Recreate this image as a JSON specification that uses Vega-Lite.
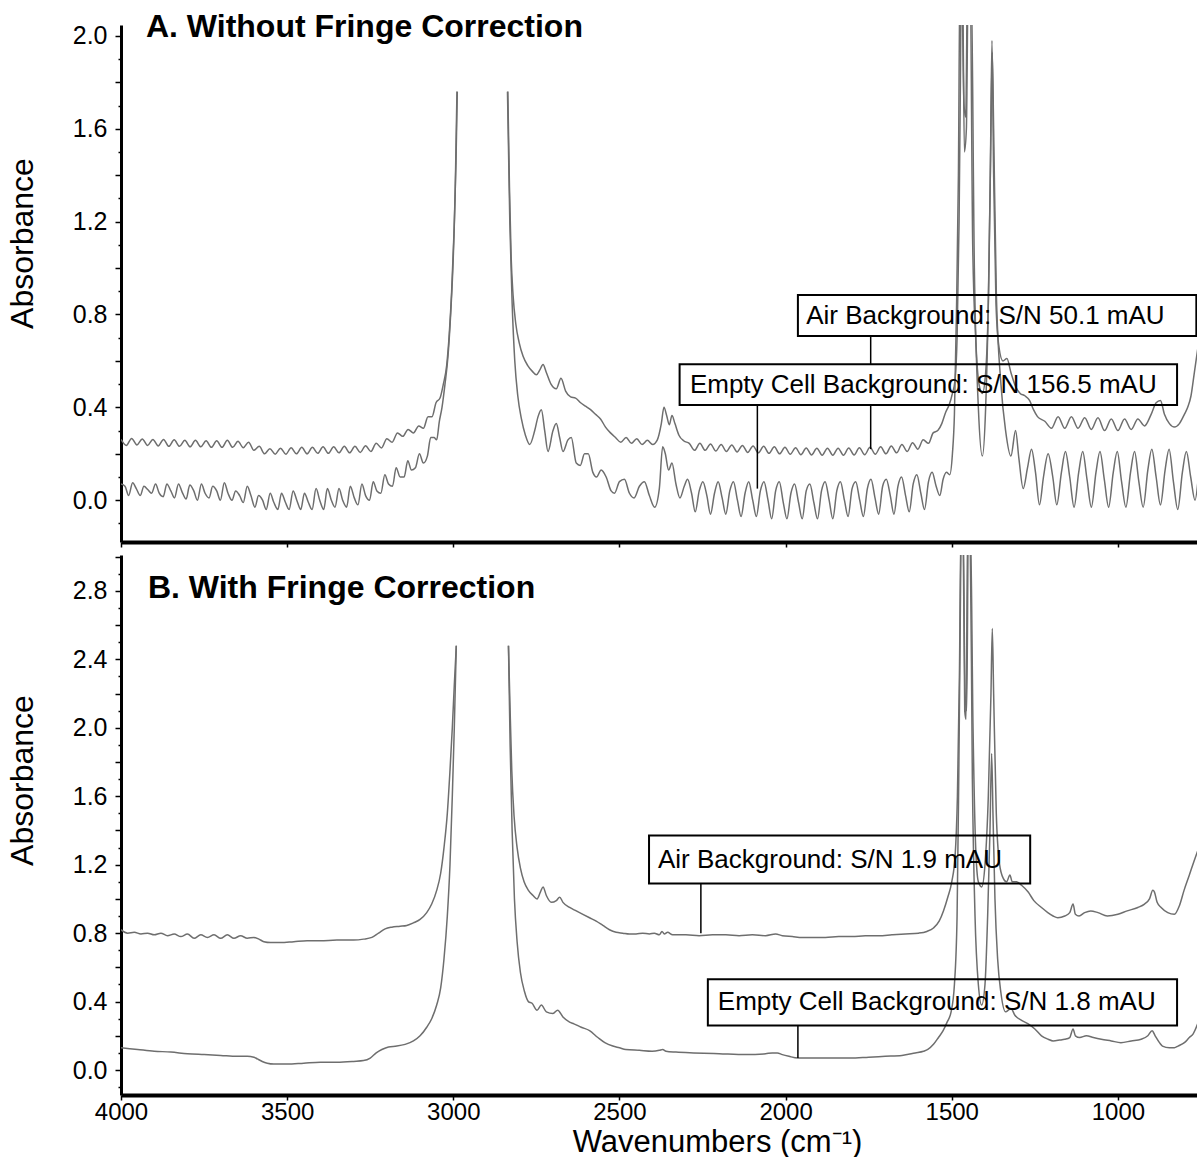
{
"$schema": "https://vega.github.io/schema/vega-lite/v6.json",
"background": "white",
"padding": {"left": 6, "top": 10, "right": 0, "bottom": 0},
"config": {"font": "Liberation Sans", "view": {"stroke": null}, "axis": {"grid": false}},
"datasets": {
"A": [
{"k":"a1","x":4000,"y":0.262},{"k":"a1","x":3984,"y":0.236},{"k":"a1","x":3968,"y":0.266},{"k":"a1","x":3952,"y":0.238},{"k":"a1","x":3936,"y":0.264},{"k":"a1","x":3920,"y":0.236},{"k":"a1","x":3904,"y":0.262},{"k":"a1","x":3888,"y":0.234},{"k":"a1","x":3872,"y":0.262},{"k":"a1","x":3856,"y":0.232},{"k":"a1","x":3840,"y":0.26},{"k":"a1","x":3824,"y":0.232},{"k":"a1","x":3808,"y":0.258},{"k":"a1","x":3792,"y":0.23},{"k":"a1","x":3776,"y":0.258},{"k":"a1","x":3760,"y":0.23},{"k":"a1","x":3744,"y":0.256},{"k":"a1","x":3728,"y":0.228},{"k":"a1","x":3712,"y":0.256},{"k":"a1","x":3696,"y":0.228},{"k":"a1","x":3680,"y":0.258},{"k":"a1","x":3664,"y":0.228},{"k":"a1","x":3648,"y":0.254},{"k":"a1","x":3632,"y":0.226},{"k":"a1","x":3616,"y":0.25},{"k":"a1","x":3600,"y":0.215},{"k":"a1","x":3584,"y":0.232},{"k":"a1","x":3568,"y":0.2},{"k":"a1","x":3552,"y":0.222},{"k":"a1","x":3536,"y":0.198},{"k":"a1","x":3520,"y":0.224},{"k":"a1","x":3504,"y":0.198},{"k":"a1","x":3488,"y":0.226},{"k":"a1","x":3472,"y":0.2},{"k":"a1","x":3456,"y":0.228},{"k":"a1","x":3440,"y":0.2},{"k":"a1","x":3424,"y":0.228},{"k":"a1","x":3408,"y":0.202},{"k":"a1","x":3392,"y":0.23},{"k":"a1","x":3376,"y":0.202},{"k":"a1","x":3360,"y":0.23},{"k":"a1","x":3344,"y":0.204},{"k":"a1","x":3328,"y":0.232},{"k":"a1","x":3312,"y":0.204},{"k":"a1","x":3296,"y":0.232},{"k":"a1","x":3280,"y":0.206},{"k":"a1","x":3264,"y":0.235},{"k":"a1","x":3248,"y":0.21},{"k":"a1","x":3232,"y":0.245},{"k":"a1","x":3216,"y":0.225},{"k":"a1","x":3200,"y":0.265},{"k":"a1","x":3184,"y":0.25},{"k":"a1","x":3168,"y":0.29},{"k":"a1","x":3152,"y":0.275},{"k":"a1","x":3136,"y":0.305},{"k":"a1","x":3120,"y":0.29},{"k":"a1","x":3104,"y":0.32},{"k":"a1","x":3090,"y":0.31},{"k":"a1","x":3076,"y":0.36},{"k":"a1","x":3064,"y":0.36},{"k":"a1","x":3052,"y":0.42},{"k":"a1","x":3040,"y":0.44},{"k":"a1","x":3030,"y":0.5},{"k":"a1","x":3020,"y":0.58},{"k":"a1","x":3012,"y":0.72},{"k":"a1","x":3005,"y":0.9},{"k":"a1","x":2998,"y":1.15},{"k":"a1","x":2992,"y":1.45},{"k":"a1","x":2988,"y":1.76},
{"k":"a2","x":2836,"y":1.76},{"k":"a2","x":2831,"y":1.35},{"k":"a2","x":2826,"y":1.05},{"k":"a2","x":2820,"y":0.88},{"k":"a2","x":2812,"y":0.76},{"k":"a2","x":2802,"y":0.68},{"k":"a2","x":2790,"y":0.62},{"k":"a2","x":2776,"y":0.58},{"k":"a2","x":2762,"y":0.555},{"k":"a2","x":2750,"y":0.54},{"k":"a2","x":2740,"y":0.56},{"k":"a2","x":2730,"y":0.585},{"k":"a2","x":2720,"y":0.55},{"k":"a2","x":2706,"y":0.5},{"k":"a2","x":2690,"y":0.48},{"k":"a2","x":2676,"y":0.525},{"k":"a2","x":2662,"y":0.47},{"k":"a2","x":2647,"y":0.445},{"k":"a2","x":2632,"y":0.44},{"k":"a2","x":2617,"y":0.42},{"k":"a2","x":2602,"y":0.405},{"k":"a2","x":2587,"y":0.39},{"k":"a2","x":2572,"y":0.37},{"k":"a2","x":2557,"y":0.35},{"k":"a2","x":2542,"y":0.315},{"k":"a2","x":2527,"y":0.29},{"k":"a2","x":2512,"y":0.27},{"k":"a2","x":2496,"y":0.25},{"k":"a2","x":2480,"y":0.27},{"k":"a2","x":2464,"y":0.245},{"k":"a2","x":2448,"y":0.265},{"k":"a2","x":2432,"y":0.24},{"k":"a2","x":2416,"y":0.258},{"k":"a2","x":2400,"y":0.24},{"k":"a2","x":2386,"y":0.26},{"k":"a2","x":2374,"y":0.33},{"k":"a2","x":2366,"y":0.4},{"k":"a2","x":2358,"y":0.365},{"k":"a2","x":2350,"y":0.325},{"k":"a2","x":2342,"y":0.365},{"k":"a2","x":2333,"y":0.33},{"k":"a2","x":2321,"y":0.28},{"k":"a2","x":2306,"y":0.255},
{"k":"a2","x":2290,"y":0.245},{"k":"a2","x":2274,"y":0.215},{"k":"a2","x":2258,"y":0.245},{"k":"a2","x":2242,"y":0.215},{"k":"a2","x":2226,"y":0.242},{"k":"a2","x":2210,"y":0.212},{"k":"a2","x":2194,"y":0.24},{"k":"a2","x":2178,"y":0.21},{"k":"a2","x":2162,"y":0.238},{"k":"a2","x":2146,"y":0.208},{"k":"a2","x":2130,"y":0.236},{"k":"a2","x":2114,"y":0.206},{"k":"a2","x":2098,"y":0.234},{"k":"a2","x":2082,"y":0.204},{"k":"a2","x":2066,"y":0.232},{"k":"a2","x":2050,"y":0.202},{"k":"a2","x":2034,"y":0.23},{"k":"a2","x":2018,"y":0.2},{"k":"a2","x":2002,"y":0.228},{"k":"a2","x":1986,"y":0.198},{"k":"a2","x":1970,"y":0.226},{"k":"a2","x":1954,"y":0.196},{"k":"a2","x":1938,"y":0.225},{"k":"a2","x":1922,"y":0.195},{"k":"a2","x":1906,"y":0.224},{"k":"a2","x":1890,"y":0.194},{"k":"a2","x":1874,"y":0.224},{"k":"a2","x":1858,"y":0.194},{"k":"a2","x":1842,"y":0.224},{"k":"a2","x":1826,"y":0.194},{"k":"a2","x":1810,"y":0.225},{"k":"a2","x":1794,"y":0.195},{"k":"a2","x":1778,"y":0.226},{"k":"a2","x":1762,"y":0.196},{"k":"a2","x":1746,"y":0.228},{"k":"a2","x":1730,"y":0.198},{"k":"a2","x":1714,"y":0.23},{"k":"a2","x":1698,"y":0.2},{"k":"a2","x":1682,"y":0.234},{"k":"a2","x":1666,"y":0.204},{"k":"a2","x":1650,"y":0.24},{"k":"a2","x":1634,"y":0.21},{"k":"a2","x":1618,"y":0.248},{"k":"a2","x":1602,"y":0.22},{"k":"a2","x":1586,"y":0.26},{"k":"a2","x":1570,"y":0.245},{"k":"a2","x":1556,"y":0.29},{"k":"a2","x":1542,"y":0.3},{"k":"a2","x":1530,"y":0.33},{"k":"a2","x":1518,"y":0.38},{"k":"a2","x":1508,"y":0.41},{"k":"a2","x":1498,"y":0.46},{"k":"a2","x":1490,"y":0.52},{"k":"a2","x":1484,"y":0.7},{"k":"a2","x":1478,"y":1.2},{"k":"a2","x":1474,"y":1.8},
{"k":"a2","x":1471,"y":2.3},{"k":"a2","x":1463,"y":1.7},{"k":"a2","x":1458,"y":1.65},{"k":"a2","x":1452,"y":2.3},{"k":"a2","x":1445,"y":2.3},{"k":"a2","x":1437,"y":1.1},{"k":"a2","x":1428,"y":0.7},{"k":"a2","x":1418,"y":0.5},{"k":"a2","x":1408,"y":0.46},{"k":"a2","x":1398,"y":0.55},{"k":"a2","x":1390,"y":0.85},{"k":"a2","x":1384,"y":1.4},{"k":"a2","x":1379,"y":1.98},{"k":"a2","x":1374,"y":1.4},{"k":"a2","x":1367,"y":0.85},{"k":"a2","x":1358,"y":0.66},{"k":"a2","x":1346,"y":0.6},{"k":"a2","x":1334,"y":0.61},{"k":"a2","x":1322,"y":0.55},{"k":"a2","x":1308,"y":0.49},{"k":"a2","x":1294,"y":0.46},{"k":"a2","x":1280,"y":0.45},{"k":"a2","x":1266,"y":0.43},{"k":"a2","x":1254,"y":0.39},{"k":"a2","x":1242,"y":0.36},
{"k":"a2","x":1220,"y":0.34},{"k":"a2","x":1200,"y":0.31},{"k":"a2","x":1180,"y":0.36},{"k":"a2","x":1160,"y":0.31},{"k":"a2","x":1140,"y":0.36},{"k":"a2","x":1120,"y":0.31},{"k":"a2","x":1100,"y":0.355},{"k":"a2","x":1080,"y":0.305},{"k":"a2","x":1060,"y":0.355},{"k":"a2","x":1040,"y":0.3},{"k":"a2","x":1020,"y":0.35},{"k":"a2","x":1000,"y":0.3},{"k":"a2","x":980,"y":0.35},{"k":"a2","x":960,"y":0.305},{"k":"a2","x":940,"y":0.35},{"k":"a2","x":920,"y":0.32},{"k":"a2","x":900,"y":0.37},{"k":"a2","x":885,"y":0.42},{"k":"a2","x":872,"y":0.43},{"k":"a2","x":860,"y":0.37},{"k":"a2","x":845,"y":0.33},{"k":"a2","x":830,"y":0.315},{"k":"a2","x":815,"y":0.33},{"k":"a2","x":800,"y":0.37},{"k":"a2","x":790,"y":0.4},{"k":"a2","x":780,"y":0.45},{"k":"a2","x":770,"y":0.55},{"k":"a2","x":760,"y":0.65},
{"k":"e1","x":4000,"y":0.07},{"k":"e1","x":3988,"y":0.06},{"k":"e1","x":3977,"y":0.02},{"k":"e1","x":3965,"y":0.075},{"k":"e1","x":3954,"y":0.05},{"k":"e1","x":3942,"y":0.02},{"k":"e1","x":3931,"y":0.06},{"k":"e1","x":3919,"y":0.045},{"k":"e1","x":3908,"y":0.03},{"k":"e1","x":3896,"y":0.07},{"k":"e1","x":3885,"y":0.03},{"k":"e1","x":3873,"y":0.015},{"k":"e1","x":3862,"y":0.07},{"k":"e1","x":3850,"y":0.04},{"k":"e1","x":3839,"y":0.01},{"k":"e1","x":3827,"y":0.07},{"k":"e1","x":3816,"y":0.035},{"k":"e1","x":3804,"y":0.005},{"k":"e1","x":3793,"y":0.065},{"k":"e1","x":3781,"y":0.04},{"k":"e1","x":3770,"y":0.0},{"k":"e1","x":3758,"y":0.07},{"k":"e1","x":3747,"y":0.03},{"k":"e1","x":3735,"y":0.01},{"k":"e1","x":3724,"y":0.06},{"k":"e1","x":3712,"y":0.04},{"k":"e1","x":3701,"y":0.0},{"k":"e1","x":3689,"y":0.075},{"k":"e1","x":3678,"y":0.03},{"k":"e1","x":3666,"y":0.0},{"k":"e1","x":3655,"y":0.04},{"k":"e1","x":3643,"y":0.02},{"k":"e1","x":3632,"y":-0.01},{"k":"e1","x":3620,"y":0.06},{"k":"e1","x":3609,"y":0.02},{"k":"e1","x":3597,"y":-0.03},{"k":"e1","x":3586,"y":0.02},{"k":"e1","x":3574,"y":0.0},{"k":"e1","x":3563,"y":-0.04},{"k":"e1","x":3551,"y":0.03},{"k":"e1","x":3540,"y":-0.01},{"k":"e1","x":3528,"y":-0.04},{"k":"e1","x":3517,"y":0.03},{"k":"e1","x":3505,"y":-0.01},{"k":"e1","x":3494,"y":-0.04},{"k":"e1","x":3482,"y":0.04},{"k":"e1","x":3471,"y":0.0},{"k":"e1","x":3459,"y":-0.04},{"k":"e1","x":3448,"y":0.03},{"k":"e1","x":3436,"y":-0.01},{"k":"e1","x":3425,"y":-0.04},{"k":"e1","x":3413,"y":0.05},{"k":"e1","x":3402,"y":0.0},{"k":"e1","x":3390,"y":-0.04},{"k":"e1","x":3379,"y":0.05},{"k":"e1","x":3367,"y":0.0},{"k":"e1","x":3356,"y":-0.03},{"k":"e1","x":3344,"y":0.05},{"k":"e1","x":3333,"y":0.0},{"k":"e1","x":3321,"y":-0.03},{"k":"e1","x":3310,"y":0.06},{"k":"e1","x":3298,"y":0.01},{"k":"e1","x":3287,"y":-0.02},{"k":"e1","x":3275,"y":0.07},{"k":"e1","x":3264,"y":0.02},{"k":"e1","x":3252,"y":0.0},{"k":"e1","x":3241,"y":0.08},{"k":"e1","x":3230,"y":0.04},{"k":"e1","x":3218,"y":0.03},{"k":"e1","x":3206,"y":0.11},{"k":"e1","x":3195,"y":0.07},{"k":"e1","x":3183,"y":0.06},{"k":"e1","x":3172,"y":0.14},{"k":"e1","x":3160,"y":0.1},{"k":"e1","x":3148,"y":0.1},{"k":"e1","x":3137,"y":0.17},{"k":"e1","x":3126,"y":0.13},{"k":"e1","x":3114,"y":0.14},{"k":"e1","x":3102,"y":0.2},{"k":"e1","x":3090,"y":0.16},{"k":"e1","x":3078,"y":0.19},{"k":"e1","x":3068,"y":0.27},{"k":"e1","x":3058,"y":0.27},{"k":"e1","x":3050,"y":0.26},{"k":"e1","x":3042,"y":0.34},{"k":"e1","x":3034,"y":0.4},{"k":"e1","x":3025,"y":0.5},{"k":"e1","x":3016,"y":0.62},{"k":"e1","x":3008,"y":0.8},{"k":"e1","x":3000,"y":1.05},{"k":"e1","x":2994,"y":1.35},{"k":"e1","x":2989,"y":1.76},
{"k":"e2","x":2837,"y":1.76},{"k":"e2","x":2830,"y":1.2},{"k":"e2","x":2823,"y":0.85},{"k":"e2","x":2815,"y":0.6},{"k":"e2","x":2806,"y":0.45},{"k":"e2","x":2795,"y":0.35},{"k":"e2","x":2783,"y":0.28},{"k":"e2","x":2770,"y":0.24},{"k":"e2","x":2755,"y":0.3},{"k":"e2","x":2745,"y":0.36},{"k":"e2","x":2735,"y":0.39},{"k":"e2","x":2725,"y":0.3},{"k":"e2","x":2715,"y":0.21},{"k":"e2","x":2700,"y":0.3},{"k":"e2","x":2690,"y":0.33},{"k":"e2","x":2680,"y":0.27},{"k":"e2","x":2670,"y":0.21},{"k":"e2","x":2655,"y":0.26},{"k":"e2","x":2645,"y":0.27},{"k":"e2","x":2630,"y":0.16},{"k":"e2","x":2618,"y":0.15},{"k":"e2","x":2605,"y":0.2},{"k":"e2","x":2594,"y":0.2},{"k":"e2","x":2580,"y":0.12},{"k":"e2","x":2569,"y":0.1},{"k":"e2","x":2555,"y":0.13},{"k":"e2","x":2540,"y":0.1},{"k":"e2","x":2525,"y":0.04},{"k":"e2","x":2515,"y":0.03},{"k":"e2","x":2500,"y":0.08},{"k":"e2","x":2485,"y":0.09},{"k":"e2","x":2470,"y":0.03},{"k":"e2","x":2456,"y":0.01},{"k":"e2","x":2440,"y":0.06},{"k":"e2","x":2425,"y":0.08},{"k":"e2","x":2410,"y":0.02},{"k":"e2","x":2394,"y":-0.03},{"k":"e2","x":2380,"y":0.05},{"k":"e2","x":2370,"y":0.23},{"k":"e2","x":2362,"y":0.2},{"k":"e2","x":2352,"y":0.13},{"k":"e2","x":2342,"y":0.16},{"k":"e2","x":2330,"y":0.07},{"k":"e2","x":2318,"y":0.01},
{"k":"e2","x":2305,"y":0.06},{"k":"e2","x":2295,"y":0.09},{"k":"e2","x":2283,"y":0.03},{"k":"e2","x":2272,"y":-0.05},{"k":"e2","x":2260,"y":0.04},{"k":"e2","x":2249,"y":0.08},{"k":"e2","x":2237,"y":0.02},{"k":"e2","x":2226,"y":-0.06},{"k":"e2","x":2214,"y":0.03},{"k":"e2","x":2203,"y":0.08},{"k":"e2","x":2191,"y":0.01},{"k":"e2","x":2180,"y":-0.06},{"k":"e2","x":2168,"y":0.04},{"k":"e2","x":2157,"y":0.08},{"k":"e2","x":2145,"y":0.0},{"k":"e2","x":2134,"y":-0.07},{"k":"e2","x":2122,"y":0.03},{"k":"e2","x":2111,"y":0.08},{"k":"e2","x":2099,"y":0.0},{"k":"e2","x":2088,"y":-0.07},{"k":"e2","x":2076,"y":0.04},{"k":"e2","x":2065,"y":0.08},{"k":"e2","x":2053,"y":0.0},{"k":"e2","x":2042,"y":-0.08},{"k":"e2","x":2030,"y":0.04},{"k":"e2","x":2019,"y":0.08},{"k":"e2","x":2007,"y":-0.01},{"k":"e2","x":1996,"y":-0.08},{"k":"e2","x":1984,"y":0.03},{"k":"e2","x":1973,"y":0.07},{"k":"e2","x":1961,"y":-0.01},{"k":"e2","x":1950,"y":-0.08},{"k":"e2","x":1938,"y":0.04},{"k":"e2","x":1927,"y":0.07},{"k":"e2","x":1915,"y":-0.01},{"k":"e2","x":1904,"y":-0.08},{"k":"e2","x":1892,"y":0.04},{"k":"e2","x":1881,"y":0.08},{"k":"e2","x":1869,"y":0.0},{"k":"e2","x":1858,"y":-0.08},{"k":"e2","x":1846,"y":0.04},{"k":"e2","x":1835,"y":0.08},{"k":"e2","x":1823,"y":0.0},{"k":"e2","x":1812,"y":-0.07},{"k":"e2","x":1800,"y":0.05},{"k":"e2","x":1789,"y":0.08},{"k":"e2","x":1777,"y":0.0},{"k":"e2","x":1766,"y":-0.07},{"k":"e2","x":1754,"y":0.05},{"k":"e2","x":1743,"y":0.09},{"k":"e2","x":1731,"y":0.01},{"k":"e2","x":1720,"y":-0.06},{"k":"e2","x":1708,"y":0.06},{"k":"e2","x":1697,"y":0.09},{"k":"e2","x":1685,"y":0.02},{"k":"e2","x":1674,"y":-0.06},{"k":"e2","x":1662,"y":0.06},{"k":"e2","x":1651,"y":0.1},{"k":"e2","x":1639,"y":0.02},{"k":"e2","x":1628,"y":-0.05},{"k":"e2","x":1616,"y":0.07},{"k":"e2","x":1605,"y":0.11},{"k":"e2","x":1593,"y":0.03},{"k":"e2","x":1582,"y":-0.04},{"k":"e2","x":1570,"y":0.08},{"k":"e2","x":1559,"y":0.12},{"k":"e2","x":1547,"y":0.06},{"k":"e2","x":1536,"y":0.02},{"k":"e2","x":1526,"y":0.09},{"k":"e2","x":1516,"y":0.12},{"k":"e2","x":1506,"y":0.11},{"k":"e2","x":1498,"y":0.2},{"k":"e2","x":1492,"y":0.37},{"k":"e2","x":1486,"y":0.8},{"k":"e2","x":1480,"y":1.4},{"k":"e2","x":1475,"y":2.3},
{"k":"e2","x":1468,"y":2.3},{"k":"e2","x":1462,"y":1.5},{"k":"e2","x":1456,"y":1.6},{"k":"e2","x":1450,"y":2.3},{"k":"e2","x":1442,"y":2.3},{"k":"e2","x":1432,"y":1.0},{"k":"e2","x":1420,"y":0.4},{"k":"e2","x":1408,"y":0.19},{"k":"e2","x":1398,"y":0.4},{"k":"e2","x":1388,"y":1.0},{"k":"e2","x":1382,"y":1.6},{"k":"e2","x":1378,"y":1.93},{"k":"e2","x":1374,"y":1.6},{"k":"e2","x":1366,"y":0.9},{"k":"e2","x":1352,"y":0.5},{"k":"e2","x":1338,"y":0.3},{"k":"e2","x":1322,"y":0.19},{"k":"e2","x":1308,"y":0.3},{"k":"e2","x":1298,"y":0.18},{"k":"e2","x":1285,"y":0.05},{"k":"e2","x":1272,"y":0.14},{"k":"e2","x":1260,"y":0.22},{"k":"e2","x":1248,"y":0.12},{"k":"e2","x":1236,"y":-0.02},{"k":"e2","x":1224,"y":0.1},{"k":"e2","x":1210,"y":0.2},{"k":"e2","x":1196,"y":0.1},{"k":"e2","x":1184,"y":-0.02},{"k":"e2","x":1170,"y":0.12},{"k":"e2","x":1158,"y":0.21},{"k":"e2","x":1145,"y":0.1},{"k":"e2","x":1132,"y":-0.03},{"k":"e2","x":1118,"y":0.12},{"k":"e2","x":1106,"y":0.21},{"k":"e2","x":1093,"y":0.09},{"k":"e2","x":1080,"y":-0.03},{"k":"e2","x":1066,"y":0.12},{"k":"e2","x":1054,"y":0.21},{"k":"e2","x":1041,"y":0.09},{"k":"e2","x":1028,"y":-0.03},{"k":"e2","x":1014,"y":0.12},{"k":"e2","x":1002,"y":0.21},{"k":"e2","x":989,"y":0.08},{"k":"e2","x":976,"y":-0.03},{"k":"e2","x":962,"y":0.12},{"k":"e2","x":950,"y":0.21},{"k":"e2","x":937,"y":0.08},{"k":"e2","x":924,"y":-0.03},{"k":"e2","x":910,"y":0.13},{"k":"e2","x":898,"y":0.22},{"k":"e2","x":885,"y":0.1},{"k":"e2","x":872,"y":-0.02},{"k":"e2","x":858,"y":0.13},{"k":"e2","x":846,"y":0.22},{"k":"e2","x":833,"y":0.08},{"k":"e2","x":820,"y":-0.04},{"k":"e2","x":806,"y":0.12},{"k":"e2","x":794,"y":0.21},{"k":"e2","x":781,"y":0.1},{"k":"e2","x":768,"y":0.0},{"k":"e2","x":758,"y":0.1}
],
"B": [
{"k":"a1","x":4000,"y":0.82},{"k":"a1","x":3980,"y":0.8},{"k":"a1","x":3960,"y":0.805},{"k":"a1","x":3940,"y":0.795},{"k":"a1","x":3920,"y":0.8},{"k":"a1","x":3900,"y":0.79},{"k":"a1","x":3880,"y":0.8},{"k":"a1","x":3860,"y":0.785},{"k":"a1","x":3840,"y":0.795},{"k":"a1","x":3820,"y":0.78},{"k":"a1","x":3800,"y":0.795},{"k":"a1","x":3780,"y":0.77},{"k":"a1","x":3760,"y":0.79},{"k":"a1","x":3740,"y":0.775},{"k":"a1","x":3720,"y":0.79},{"k":"a1","x":3700,"y":0.77},{"k":"a1","x":3680,"y":0.79},{"k":"a1","x":3660,"y":0.77},{"k":"a1","x":3640,"y":0.785},{"k":"a1","x":3620,"y":0.77},{"k":"a1","x":3600,"y":0.775},{"k":"a1","x":3585,"y":0.765},{"k":"a1","x":3570,"y":0.75},{"k":"a1","x":3550,"y":0.745},{"k":"a1","x":3520,"y":0.745},{"k":"a1","x":3480,"y":0.75},{"k":"a1","x":3440,"y":0.755},{"k":"a1","x":3400,"y":0.755},{"k":"a1","x":3350,"y":0.76},{"k":"a1","x":3300,"y":0.76},{"k":"a1","x":3270,"y":0.765},{"k":"a1","x":3245,"y":0.775},{"k":"a1","x":3225,"y":0.8},{"k":"a1","x":3205,"y":0.825},{"k":"a1","x":3185,"y":0.835},{"k":"a1","x":3160,"y":0.84},{"k":"a1","x":3140,"y":0.845},{"k":"a1","x":3120,"y":0.86},{"k":"a1","x":3100,"y":0.88},{"k":"a1","x":3080,"y":0.92},{"k":"a1","x":3065,"y":0.97},{"k":"a1","x":3050,"y":1.05},{"k":"a1","x":3038,"y":1.15},{"k":"a1","x":3028,"y":1.3},{"k":"a1","x":3018,"y":1.5},{"k":"a1","x":3010,"y":1.75},{"k":"a1","x":3003,"y":2.0},{"k":"a1","x":2997,"y":2.25},{"k":"a1","x":2991,"y":2.48},
{"k":"a2","x":2834,"y":2.48},{"k":"a2","x":2829,"y":2.1},{"k":"a2","x":2824,"y":1.75},{"k":"a2","x":2817,"y":1.48},{"k":"a2","x":2808,"y":1.3},{"k":"a2","x":2798,"y":1.18},{"k":"a2","x":2787,"y":1.1},{"k":"a2","x":2774,"y":1.05},{"k":"a2","x":2760,"y":1.02},{"k":"a2","x":2748,"y":1.0},{"k":"a2","x":2738,"y":1.04},{"k":"a2","x":2730,"y":1.07},{"k":"a2","x":2720,"y":1.02},{"k":"a2","x":2705,"y":0.98},{"k":"a2","x":2690,"y":0.99},{"k":"a2","x":2680,"y":1.01},{"k":"a2","x":2670,"y":0.98},{"k":"a2","x":2650,"y":0.95},{"k":"a2","x":2630,"y":0.93},{"k":"a2","x":2610,"y":0.91},{"k":"a2","x":2590,"y":0.89},{"k":"a2","x":2570,"y":0.87},{"k":"a2","x":2550,"y":0.845},{"k":"a2","x":2530,"y":0.82},{"k":"a2","x":2510,"y":0.805},{"k":"a2","x":2490,"y":0.8},{"k":"a2","x":2470,"y":0.795},{"k":"a2","x":2450,"y":0.795},{"k":"a2","x":2430,"y":0.8},{"k":"a2","x":2410,"y":0.795},{"k":"a2","x":2395,"y":0.8},{"k":"a2","x":2380,"y":0.79},{"k":"a2","x":2372,"y":0.81},{"k":"a2","x":2365,"y":0.795},{"k":"a2","x":2355,"y":0.805},{"k":"a2","x":2340,"y":0.79},{"k":"a2","x":2300,"y":0.79},{"k":"a2","x":2260,"y":0.785},{"k":"a2","x":2220,"y":0.79},{"k":"a2","x":2180,"y":0.79},{"k":"a2","x":2140,"y":0.785},{"k":"a2","x":2100,"y":0.79},{"k":"a2","x":2060,"y":0.785},{"k":"a2","x":2030,"y":0.795},{"k":"a2","x":2010,"y":0.785},{"k":"a2","x":1980,"y":0.78},{"k":"a2","x":1950,"y":0.775},{"k":"a2","x":1920,"y":0.775},{"k":"a2","x":1880,"y":0.775},{"k":"a2","x":1840,"y":0.78},{"k":"a2","x":1800,"y":0.78},{"k":"a2","x":1760,"y":0.785},{"k":"a2","x":1720,"y":0.785},{"k":"a2","x":1680,"y":0.79},{"k":"a2","x":1640,"y":0.795},{"k":"a2","x":1600,"y":0.8},{"k":"a2","x":1575,"y":0.81},{"k":"a2","x":1555,"y":0.83},{"k":"a2","x":1538,"y":0.87},{"k":"a2","x":1525,"y":0.93},{"k":"a2","x":1512,"y":1.01},{"k":"a2","x":1500,"y":1.1},{"k":"a2","x":1490,"y":1.25},{"k":"a2","x":1483,"y":1.6},{"k":"a2","x":1477,"y":2.3},{"k":"a2","x":1472,"y":3.2},{"k":"a2","x":1466,"y":3.2},{"k":"a2","x":1460,"y":2.2},{"k":"a2","x":1455,"y":2.1},{"k":"a2","x":1450,"y":3.2},{"k":"a2","x":1444,"y":3.2},{"k":"a2","x":1436,"y":2.0},{"k":"a2","x":1428,"y":1.3},{"k":"a2","x":1420,"y":1.1},{"k":"a2","x":1410,"y":1.07},{"k":"a2","x":1400,"y":1.2},{"k":"a2","x":1390,"y":1.6},{"k":"a2","x":1382,"y":2.2},{"k":"a2","x":1378,"y":2.58},{"k":"a2","x":1374,"y":2.2},{"k":"a2","x":1366,"y":1.5},{"k":"a2","x":1356,"y":1.2},{"k":"a2","x":1345,"y":1.12},{"k":"a2","x":1335,"y":1.1},{"k":"a2","x":1325,"y":1.14},{"k":"a2","x":1318,"y":1.1},{"k":"a2","x":1305,"y":1.1},{"k":"a2","x":1290,"y":1.08},{"k":"a2","x":1270,"y":1.04},{"k":"a2","x":1253,"y":0.99},{"k":"a2","x":1230,"y":0.95},{"k":"a2","x":1211,"y":0.92},{"k":"a2","x":1195,"y":0.9},{"k":"a2","x":1181,"y":0.89},{"k":"a2","x":1160,"y":0.9},{"k":"a2","x":1145,"y":0.92},{"k":"a2","x":1135,"y":0.97},{"k":"a2","x":1128,"y":0.91},{"k":"a2","x":1117,"y":0.9},{"k":"a2","x":1100,"y":0.92},{"k":"a2","x":1082,"y":0.93},{"k":"a2","x":1060,"y":0.92},{"k":"a2","x":1032,"y":0.9},{"k":"a2","x":1000,"y":0.91},{"k":"a2","x":972,"y":0.93},{"k":"a2","x":940,"y":0.95},{"k":"a2","x":920,"y":0.97},{"k":"a2","x":905,"y":1.0},{"k":"a2","x":895,"y":1.05},{"k":"a2","x":890,"y":1.04},{"k":"a2","x":882,"y":0.98},{"k":"a2","x":870,"y":0.95},{"k":"a2","x":850,"y":0.92},{"k":"a2","x":830,"y":0.91},{"k":"a2","x":815,"y":0.96},{"k":"a2","x":801,"y":1.05},{"k":"a2","x":785,"y":1.14},{"k":"a2","x":771,"y":1.22},{"k":"a2","x":760,"y":1.28},
{"k":"e1","x":4000,"y":0.13},{"k":"e1","x":3950,"y":0.12},{"k":"e1","x":3900,"y":0.11},{"k":"e1","x":3850,"y":0.105},{"k":"e1","x":3800,"y":0.095},{"k":"e1","x":3750,"y":0.09},{"k":"e1","x":3700,"y":0.085},{"k":"e1","x":3650,"y":0.08},{"k":"e1","x":3620,"y":0.08},{"k":"e1","x":3600,"y":0.075},{"k":"e1","x":3590,"y":0.065},{"k":"e1","x":3575,"y":0.05},{"k":"e1","x":3560,"y":0.04},{"k":"e1","x":3540,"y":0.035},{"k":"e1","x":3500,"y":0.035},{"k":"e1","x":3450,"y":0.04},{"k":"e1","x":3400,"y":0.045},{"k":"e1","x":3350,"y":0.045},{"k":"e1","x":3300,"y":0.05},{"k":"e1","x":3270,"y":0.055},{"k":"e1","x":3250,"y":0.07},{"k":"e1","x":3232,"y":0.1},{"k":"e1","x":3215,"y":0.12},{"k":"e1","x":3195,"y":0.135},{"k":"e1","x":3170,"y":0.14},{"k":"e1","x":3145,"y":0.15},{"k":"e1","x":3120,"y":0.17},{"k":"e1","x":3100,"y":0.2},{"k":"e1","x":3080,"y":0.25},{"k":"e1","x":3065,"y":0.3},{"k":"e1","x":3050,"y":0.38},{"k":"e1","x":3038,"y":0.48},{"k":"e1","x":3028,"y":0.65},{"k":"e1","x":3018,"y":0.9},{"k":"e1","x":3010,"y":1.2},{"k":"e1","x":3003,"y":1.6},{"k":"e1","x":2997,"y":2.0},{"k":"e1","x":2991,"y":2.48},
{"k":"e2","x":2834,"y":2.48},{"k":"e2","x":2829,"y":1.9},{"k":"e2","x":2823,"y":1.4},{"k":"e2","x":2816,"y":1.0},{"k":"e2","x":2808,"y":0.75},{"k":"e2","x":2798,"y":0.57},{"k":"e2","x":2786,"y":0.46},{"k":"e2","x":2774,"y":0.4},{"k":"e2","x":2763,"y":0.39},{"k":"e2","x":2748,"y":0.35},{"k":"e2","x":2735,"y":0.38},{"k":"e2","x":2720,"y":0.34},{"k":"e2","x":2700,"y":0.33},{"k":"e2","x":2686,"y":0.35},{"k":"e2","x":2670,"y":0.31},{"k":"e2","x":2650,"y":0.28},{"k":"e2","x":2637,"y":0.27},{"k":"e2","x":2615,"y":0.25},{"k":"e2","x":2590,"y":0.23},{"k":"e2","x":2565,"y":0.19},{"k":"e2","x":2544,"y":0.16},{"k":"e2","x":2520,"y":0.14},{"k":"e2","x":2500,"y":0.13},{"k":"e2","x":2481,"y":0.12},{"k":"e2","x":2440,"y":0.115},{"k":"e2","x":2402,"y":0.11},{"k":"e2","x":2380,"y":0.115},{"k":"e2","x":2370,"y":0.12},{"k":"e2","x":2360,"y":0.11},{"k":"e2","x":2330,"y":0.105},{"k":"e2","x":2277,"y":0.1},{"k":"e2","x":2200,"y":0.095},{"k":"e2","x":2119,"y":0.09},{"k":"e2","x":2060,"y":0.095},{"k":"e2","x":2040,"y":0.1},{"k":"e2","x":2025,"y":0.1},{"k":"e2","x":2010,"y":0.09},{"k":"e2","x":1990,"y":0.08},{"k":"e2","x":1963,"y":0.07},{"k":"e2","x":1900,"y":0.07},{"k":"e2","x":1806,"y":0.07},{"k":"e2","x":1750,"y":0.075},{"k":"e2","x":1700,"y":0.08},{"k":"e2","x":1650,"y":0.085},{"k":"e2","x":1610,"y":0.1},{"k":"e2","x":1585,"y":0.11},{"k":"e2","x":1572,"y":0.12},{"k":"e2","x":1555,"y":0.15},{"k":"e2","x":1540,"y":0.19},{"k":"e2","x":1526,"y":0.23},{"k":"e2","x":1514,"y":0.28},{"k":"e2","x":1502,"y":0.34},{"k":"e2","x":1492,"y":0.5},{"k":"e2","x":1484,"y":0.9},{"k":"e2","x":1479,"y":1.7},{"k":"e2","x":1475,"y":2.5},{"k":"e2","x":1471,"y":3.2},{"k":"e2","x":1466,"y":3.2},{"k":"e2","x":1461,"y":2.1},{"k":"e2","x":1457,"y":2.05},{"k":"e2","x":1452,"y":3.2},{"k":"e2","x":1445,"y":3.2},{"k":"e2","x":1438,"y":1.7},{"k":"e2","x":1430,"y":0.9},{"k":"e2","x":1420,"y":0.5},{"k":"e2","x":1410,"y":0.38},{"k":"e2","x":1400,"y":0.5},{"k":"e2","x":1392,"y":0.9},{"k":"e2","x":1385,"y":1.4},{"k":"e2","x":1380,"y":1.85},{"k":"e2","x":1376,"y":1.5},{"k":"e2","x":1370,"y":1.0},{"k":"e2","x":1362,"y":0.65},{"k":"e2","x":1352,"y":0.45},{"k":"e2","x":1338,"y":0.34},{"k":"e2","x":1322,"y":0.36},{"k":"e2","x":1310,"y":0.32},{"k":"e2","x":1290,"y":0.29},{"k":"e2","x":1270,"y":0.27},{"k":"e2","x":1250,"y":0.24},{"k":"e2","x":1230,"y":0.2},{"k":"e2","x":1210,"y":0.18},{"k":"e2","x":1195,"y":0.17},{"k":"e2","x":1175,"y":0.175},{"k":"e2","x":1160,"y":0.18},{"k":"e2","x":1145,"y":0.19},{"k":"e2","x":1135,"y":0.24},{"k":"e2","x":1128,"y":0.2},{"k":"e2","x":1115,"y":0.19},{"k":"e2","x":1095,"y":0.2},{"k":"e2","x":1074,"y":0.19},{"k":"e2","x":1050,"y":0.18},{"k":"e2","x":1020,"y":0.17},{"k":"e2","x":991,"y":0.16},{"k":"e2","x":960,"y":0.17},{"k":"e2","x":930,"y":0.18},{"k":"e2","x":910,"y":0.2},{"k":"e2","x":897,"y":0.23},{"k":"e2","x":888,"y":0.2},{"k":"e2","x":875,"y":0.16},{"k":"e2","x":866,"y":0.14},{"k":"e2","x":845,"y":0.13},{"k":"e2","x":830,"y":0.13},{"k":"e2","x":819,"y":0.14},{"k":"e2","x":800,"y":0.16},{"k":"e2","x":785,"y":0.19},{"k":"e2","x":774,"y":0.21},{"k":"e2","x":760,"y":0.27}
],
"ann": [
{"p":"A","t":"lead","x":1744,"y":0.707,"y2":0.586},
{"p":"A","t":"lead","x":1744,"y":0.41,"y2":0.22},
{"p":"A","t":"lead","x":2085,"y":0.41,"y2":0.05},
{"p":"A","t":"box","x":1963,"x2":764,"y":0.707,"y2":0.884},
{"p":"A","t":"box","x":2319,"x2":822,"y":0.41,"y2":0.586},
{"p":"A","t":"label","x":1938,"y":0.795,"txt":"Air Background: S/N 50.1 mAU"},
{"p":"A","t":"label","x":2288,"y":0.498,"txt":"Empty Cell Background: S/N 156.5 mAU"},
{"p":"A","t":"title","x":3925,"y":2.039,"txt":"A. Without Fringe Correction"},
{"p":"B","t":"lead","x":2255,"y":1.09,"y2":0.8},
{"p":"B","t":"lead","x":1963,"y":0.26,"y2":0.07},
{"p":"B","t":"box","x":2411,"x2":1264,"y":1.09,"y2":1.37},
{"p":"B","t":"box","x":2234,"x2":822,"y":0.26,"y2":0.53},
{"p":"B","t":"label","x":2384,"y":1.23,"txt":"Air Background: S/N 1.9 mAU"},
{"p":"B","t":"label","x":2204,"y":0.395,"txt":"Empty Cell Background: S/N 1.8 mAU"},
{"p":"B","t":"title","x":3919,"y":2.82,"txt":"B. With Fringe Correction"}
]
},
"vconcat": [
{
"width": 1077, "height": 517,
"encoding": {
"x": {"field": "x", "type": "quantitative", "scale": {"domain": [759, 4000], "reverse": true, "nice": false, "zero": false},
 "axis": {"title": null, "labels": false, "values": [1000,1500,2000,2500,3000,3500,4000], "tickSize": 5, "tickWidth": 1.5, "tickColor": "black", "domainColor": "black", "domainWidth": 4}},
"y": {"field": "y", "type": "quantitative", "scale": {"domain": [-0.18, 2.047], "nice": false, "zero": false},
 "axis": {"title": "Absorbance", "titleY": 218, "values": [-0.1,0,0.1,0.2,0.3,0.4,0.5,0.6,0.7,0.8,0.9,1,1.1,1.2,1.3,1.4,1.5,1.6,1.7,1.8,1.9,2],
  "labelExpr": "round(datum.value*10) % 4 === 0 ? format(datum.value, '.1f') : ''",
  "tickSize": {"condition": {"test": "round(datum.value*10) % 2 === 0", "value": 6}, "value": 3},
  "labelOverlap": false, "labelFlush": false, "labelFontSize": 25, "labelColor": "black", "labelPadding": 8,
  "titleFontSize": 32, "titleFontWeight": "normal", "titleColor": "black", "titlePadding": 20,
  "minExtent": 62, "maxExtent": 62, "domainColor": "black", "domainWidth": 3, "tickColor": "black", "tickWidth": 1.5}}
},
"layer": [
{"data": {"name": "A"}, "mark": {"type": "line", "clip": true, "interpolate": "monotone", "stroke": "#6e6e6e", "strokeWidth": 1.5}, "encoding": {"detail": {"field": "k"}}},
{"data": {"name": "ann"}, "transform": [{"filter": "datum.p === 'A' && datum.t === 'lead'"}], "mark": {"type": "rule", "color": "black", "strokeWidth": 1.5}, "encoding": {"y2": {"field": "y2"}}},
{"data": {"name": "ann"}, "transform": [{"filter": "datum.p === 'A' && datum.t === 'box'"}], "mark": {"type": "rect", "fill": "white", "fillOpacity": 0, "stroke": "black", "strokeWidth": 2}, "encoding": {"x2": {"field": "x2"}, "y2": {"field": "y2"}}},
{"data": {"name": "ann"}, "transform": [{"filter": "datum.p === 'A' && datum.t === 'label'"}], "mark": {"type": "text", "align": "left", "baseline": "middle", "fontSize": 26, "font": "Liberation Sans", "color": "black"}, "encoding": {"text": {"field": "txt"}}},
{"data": {"name": "ann"}, "transform": [{"filter": "datum.p === 'A' && datum.t === 'title'"}], "mark": {"type": "text", "align": "left", "baseline": "middle", "fontSize": 32, "fontWeight": "bold", "font": "Liberation Sans", "color": "black"}, "encoding": {"text": {"field": "txt"}}}
]
},
{
"width": 1077, "height": 540,
"encoding": {
"x": {"field": "x", "type": "quantitative", "scale": {"domain": [759, 4000], "reverse": true, "nice": false, "zero": false},
 "axis": {"title": "Wavenumbers (cm⁻¹)", "titleX": 596, "values": [1000,1500,2000,2500,3000,3500,4000], "format": "d", "labelFlush": false, "labelOverlap": false, "labelFontSize": 24, "labelColor": "black", "labelPadding": 0,
  "titleFontSize": 31, "titleFontWeight": "normal", "titleColor": "black", "titlePadding": 3,
  "tickSize": 5, "tickWidth": 1.5, "tickColor": "black", "domainColor": "black", "domainWidth": 4}},
"y": {"field": "y", "type": "quantitative", "scale": {"domain": [-0.146, 3.01], "nice": false, "zero": false},
 "axis": {"title": "Absorbance", "titleY": 225, "values": [-0.1,0,0.1,0.2,0.3,0.4,0.5,0.6,0.7,0.8,0.9,1,1.1,1.2,1.3,1.4,1.5,1.6,1.7,1.8,1.9,2,2.1,2.2,2.3,2.4,2.5,2.6,2.7,2.8,2.9,3],
  "labelExpr": "round(datum.value*10) % 4 === 0 ? format(datum.value, '.1f') : ''",
  "tickSize": {"condition": {"test": "round(datum.value*10) % 2 === 0", "value": 6}, "value": 3},
  "labelOverlap": false, "labelFlush": false, "labelFontSize": 25, "labelColor": "black", "labelPadding": 8,
  "titleFontSize": 32, "titleFontWeight": "normal", "titleColor": "black", "titlePadding": 20,
  "minExtent": 62, "maxExtent": 62, "domainColor": "black", "domainWidth": 3, "tickColor": "black", "tickWidth": 1.5}}
},
"layer": [
{"data": {"name": "B"}, "mark": {"type": "line", "clip": true, "interpolate": "monotone", "stroke": "#6e6e6e", "strokeWidth": 1.5}, "encoding": {"detail": {"field": "k"}}},
{"data": {"name": "ann"}, "transform": [{"filter": "datum.p === 'B' && datum.t === 'lead'"}], "mark": {"type": "rule", "color": "black", "strokeWidth": 1.5}, "encoding": {"y2": {"field": "y2"}}},
{"data": {"name": "ann"}, "transform": [{"filter": "datum.p === 'B' && datum.t === 'box'"}], "mark": {"type": "rect", "fill": "white", "fillOpacity": 0, "stroke": "black", "strokeWidth": 2}, "encoding": {"x2": {"field": "x2"}, "y2": {"field": "y2"}}},
{"data": {"name": "ann"}, "transform": [{"filter": "datum.p === 'B' && datum.t === 'label'"}], "mark": {"type": "text", "align": "left", "baseline": "middle", "fontSize": 26, "font": "Liberation Sans", "color": "black"}, "encoding": {"text": {"field": "txt"}}},
{"data": {"name": "ann"}, "transform": [{"filter": "datum.p === 'B' && datum.t === 'title'"}], "mark": {"type": "text", "align": "left", "baseline": "middle", "fontSize": 32, "fontWeight": "bold", "font": "Liberation Sans", "color": "black"}, "encoding": {"text": {"field": "txt"}}}
]
}
],
"spacing": 13,
"bounds": "flush"
}
